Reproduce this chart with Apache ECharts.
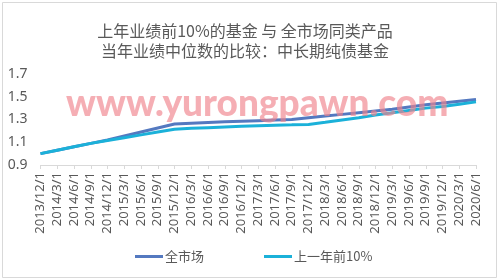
<!DOCTYPE html>
<html><head><meta charset="utf-8">
<script src="https://cdn.jsdelivr.net/npm/echarts@6/dist/echarts.min.js"></script>
<style>html,body{margin:0;padding:0;background:#fff}#c{width:499px;height:279px}</style>
</head><body><div id="c"></div>
<script>
const categories = ['2013/12/1','2014/3/1','2014/6/1','2014/9/1','2014/12/1','2015/3/1','2015/6/1','2015/9/1','2015/12/1','2016/3/1','2016/6/1','2016/9/1','2016/12/1','2017/3/1','2017/6/1','2017/9/1','2017/12/1','2018/3/1','2018/6/1','2018/9/1','2018/12/1','2019/3/1','2019/6/1','2019/9/1','2019/12/1','2020/3/1','2020/6/1'];
const marketAll = [1.00,1.03,1.06,1.09,1.12,1.155,1.19,1.225,1.26,1.267,1.274,1.28,1.285,1.29,1.295,1.30,1.315,1.33,1.345,1.36,1.375,1.39,1.41,1.43,1.445,1.46,1.475];
const top10 = [1.00,1.03,1.06,1.09,1.115,1.14,1.165,1.19,1.215,1.222,1.228,1.234,1.24,1.245,1.25,1.253,1.257,1.275,1.295,1.315,1.34,1.36,1.38,1.40,1.415,1.435,1.455];
const yTicks = {min:0.9, max:1.7, interval:0.2};
const titleLines = ['上年业绩前10%的基金 与 全市场同类产品','当年业绩中位数的比较：中长期纯债基金'];
const seriesNames = ['全市场','上一年前10%'];
const watermark = 'www.yurongpawn.com';

const chart = echarts.init(document.getElementById('c'), null, {renderer:'canvas'});
const font = '"Noto Sans CJK SC","Noto Sans",sans-serif';
chart.setOption({
  animation:false,
  backgroundColor:'#fff',
  title:{text:titleLines.join('\n'), left:240, textAlign:'center', top:16,
    textStyle:{fontSize:16, fontWeight:'normal', color:'#595959', fontFamily:font, lineHeight:20}},
  graphic:[
    {type:'rect', shape:{x:2.5,y:2.5,width:494,height:275}, style:{fill:'none', stroke:'#d9d9d9', lineWidth:1}, z:-1},
    {type:'text', left:66, top:86, z:100, style:{text:watermark, fill:'rgba(240,130,140,0.65)', font:'900 37px "Lato",sans-serif'}}
  ],
  legend:{bottom:11, left:130, itemGap:60, itemWidth:28, itemHeight:3, icon:'rect',
    textStyle:{fontSize:13, color:'#595959', fontFamily:font, padding:[0,0,0,-3]},
    data:seriesNames},
  grid:{left:40.5, right:23, top:74, bottom:114},
  xAxis:{type:'category', data:categories, boundaryGap:false,
    axisLine:{lineStyle:{color:'#d9d9d9'}},
    axisTick:{show:true, length:4, lineStyle:{color:'#d9d9d9'}},
    axisLabel:{rotate:90, interval:0, fontSize:13, color:'#595959', fontFamily:'"Noto Sans",sans-serif', margin:7}},
  yAxis:{type:'value', min:yTicks.min, max:yTicks.max, interval:yTicks.interval,
    splitLine:{show:false}, axisLine:{show:false}, axisTick:{show:false},
    axisLabel:{fontSize:14, color:'#595959', fontFamily:'"Noto Sans",sans-serif', margin:13,
      formatter:v=>v.toFixed(1)}},
  series:[
    {name:seriesNames[0], type:'line', data:marketAll, symbol:'none', color:'#5479c0', lineStyle:{width:3, color:'#5479c0'}},
    {name:seriesNames[1], type:'line', data:top10, symbol:'none', color:'#1bb1d9', lineStyle:{width:3, color:'#1bb1d9'}}
  ]
});
</script></body></html>
